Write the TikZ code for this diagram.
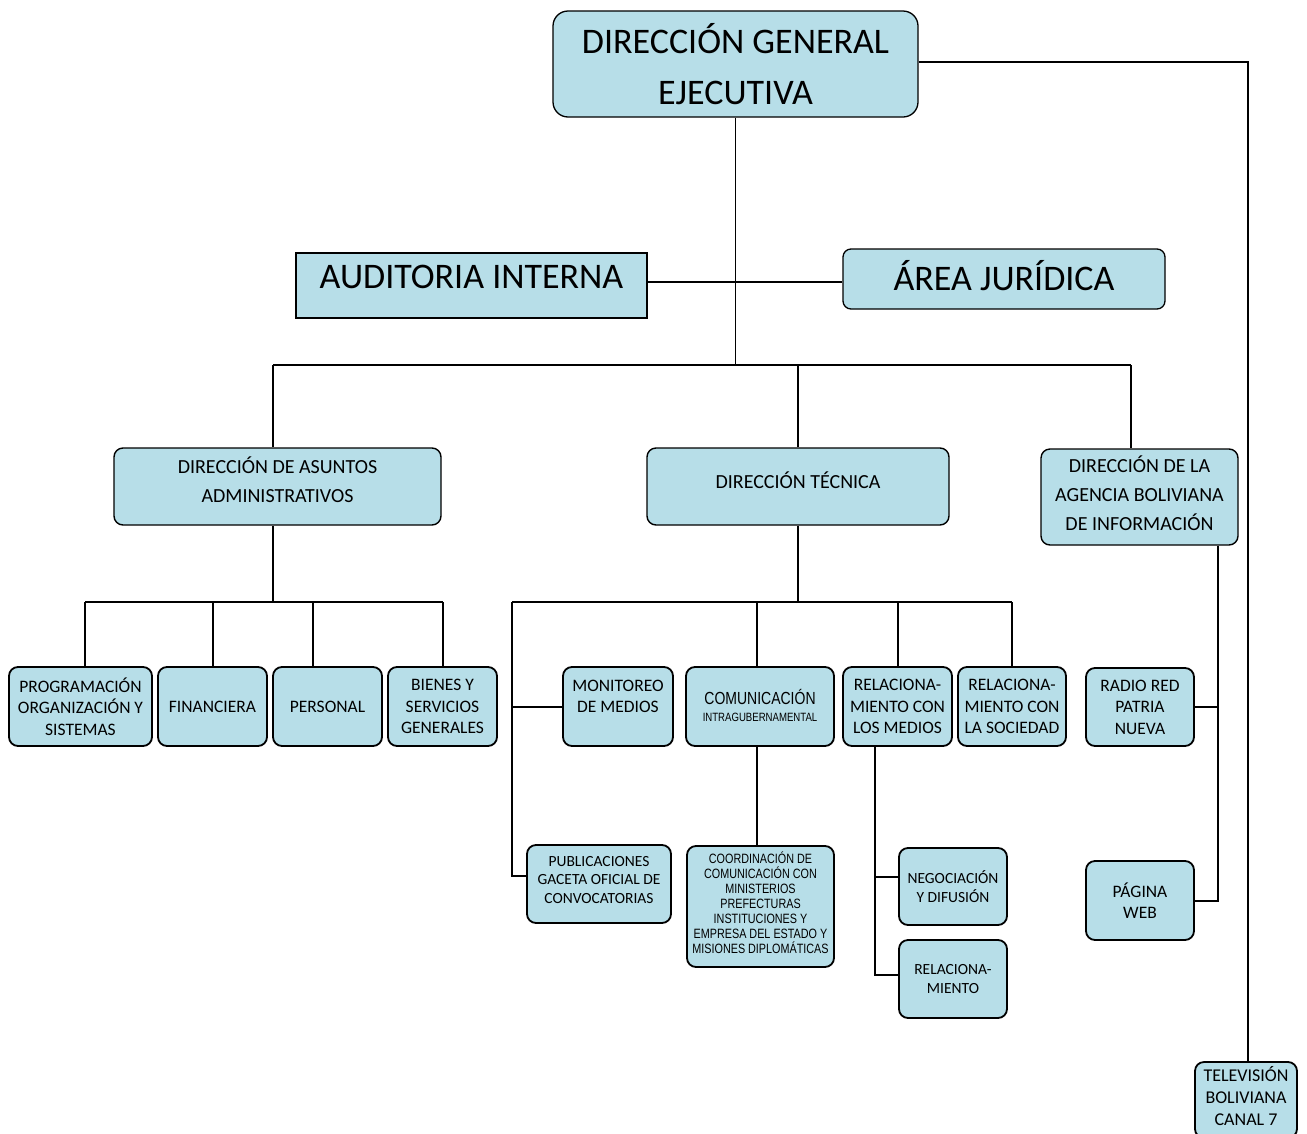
\documentclass[tikz,border=0pt]{standalone}
\usepackage{fontspec}
\setmainfont{Carlito}
\newfontfamily\narrowfont{Liberation Sans}[FakeStretch=0.8]
\definecolor{boxfill}{HTML}{B7DEE8}

\begin{document}
\begin{tikzpicture}[x=1pt, y=-1pt,
		unit/.style={draw, fill=boxfill, line width=1.8pt, rounded corners=9pt, align=center, inner sep=2pt,
			minimum width=109pt, minimum height=79pt, font=\fontsize{17.5}{21.5}\selectfont},
		lower/.style={unit, minimum height=78pt, font=\fontsize{15.5}{18.5}\selectfont},
		head/.style={unit, line width=1.4pt, minimum height=77pt, font=\fontsize{20}{29}\selectfont},
		chief/.style={unit, line width=1.3pt, font=\fontsize{36}{51}\selectfont},
		link/.style={line width=2pt},
		trunk/.style={line width=1.5pt},
	]
		\useasboundingbox (0,0) rectangle (1307,1133);

		% top level
		\node[chief, minimum width=365pt, minimum height=106pt, rounded corners=15pt] (dg) at (735.5,64) {DIRECCIÓN GENERAL\\EJECUTIVA};
		\node[chief, sharp corners, minimum width=351pt, minimum height=65pt, text depth=17pt] (aud) at (471.5,285.5) {AUDITORIA INTERNA};
		\node[chief, minimum width=322pt, minimum height=60pt, rounded corners=8pt, text depth=8pt] (jur) at (1004,279) {ÁREA JURÍDICA};

		% directions
		\node[head, minimum width=327pt, text depth=14pt] (daa) at (277.5,486.5) {DIRECCIÓN DE ASUNTOS\\ADMINISTRATIVOS};
		\node[head, minimum width=302pt, text depth=12pt] (dt) at (798,486.5) {DIRECCIÓN TÉCNICA};
		\node[head, minimum width=197pt, minimum height=96pt, text depth=7pt] (dabi) at (1139.5,497) {DIRECCIÓN DE LA\\AGENCIA BOLIVIANA\\DE INFORMACIÓN};

		% units
		\node[unit, minimum width=143pt] (prog) at (80.5,706.5) {PROGRAMACIÓN\\ORGANIZACIÓN Y\\SISTEMAS};
		\node[unit] (fin) at (212.5,706.5) {FINANCIERA};
		\node[unit] (pers) at (327.5,706.5) {PERSONAL};
		\node[unit] (bien) at (442.5,706.5) {BIENES Y\\SERVICIOS\\GENERALES};
		\node[unit, minimum width=110pt, text depth=20pt] (mon) at (618,706.5) {MONITOREO\\DE MEDIOS};
		\node[unit, minimum width=148pt, text depth=2pt] (com) at (760,706.5) {{\narrowfont\fontsize{17.5}{20}\selectfont COMUNICACIÓN}\\[-4pt]{\narrowfont\fontsize{12}{14}\selectfont INTRAGUBERNAMENTAL}};
		\node[unit] (rel1) at (897.5,706.5) {RELACIONA-\\MIENTO CON\\LOS MEDIOS};
		\node[unit, minimum width=108pt] (rel2) at (1012,706.5) {RELACIONA-\\MIENTO CON\\LA SOCIEDAD};
		\node[unit, minimum width=108pt, minimum height=78pt] (radio) at (1140,707) {RADIO RED\\PATRIA\\NUEVA};

		\node[lower, minimum width=144pt, text depth=9pt] (pub) at (599,884) {PUBLICACIONES\\GACETA OFICIAL DE\\CONVOCATORIAS};
		\node[unit, minimum width=147pt, minimum height=121pt, text depth=8pt, font=\narrowfont\fontsize{13.5}{15}\selectfont] (coord) at (760.5,906.5) {COORDINACIÓN DE\\COMUNICACIÓN CON\\MINISTERIOS\\PREFECTURAS\\INSTITUCIONES Y\\EMPRESA DEL ESTADO Y\\MISIONES DIPLOMÁTICAS};
		\node[lower, minimum width=108pt, minimum height=77pt] (neg) at (953,886.5) {NEGOCIACIÓN\\Y DIFUSIÓN};
		\node[lower, minimum width=108pt] (rel3) at (953,979) {RELACIONA-\\MIENTO};
		\node[unit, minimum width=108pt] (web) at (1140,900.5) {PÁGINA\\WEB};
		\node[unit, minimum width=102pt, minimum height=76pt, text depth=8pt, font=\fontsize{18}{22}\selectfont] (tv) at (1246,1100) {TELEVISIÓN\\BOLIVIANA\\CANAL 7};

		% connectors, top
		\coordinate (busL) at (273,365);
		\coordinate (busR) at (1131,365);
		\draw[trunk] (dg) -- (dg |- busL);
		\draw[trunk] (aud.east |- 0,282) -- (jur.west |- 0,282);
		\draw[link] (busL) -- (busR);
		\draw[link] (busL) -- (busL |- daa.north);
		\draw[link] (dt) -- (dt |- busL);
		\draw[link] (busR) -- (busR |- dabi.north);
		\draw[trunk] (dg.east |- 0,62) -| (tv.north -| 1248,0);

		% administrative units
		\coordinate (admL) at (85,602);
		\coordinate (admR) at (443,602);
		\draw[link] (busL |- daa.south) -- (busL |- admL);
		\draw[link] (admL) -- (admR);
		\foreach \n/\x in {prog/85, fin/213, pers/313, bien/443}
			\draw[link] (\n.north -| \x,0) -- (admL -| \x,0);

		% technical units
		\coordinate (tecL) at (512,602);
		\coordinate (tecR) at (1012,602);
		\draw[link] (dt) -- (dt |- tecL);
		\draw[link] (tecL) -- (tecR);
		\draw[link] (tecL) |- ([yshift=8pt]pub.west);
		\draw[link] (mon.west) -- (mon.west -| tecL);
		\coordinate (comX) at ([xshift=-3pt]com.north);
		\draw[link] (comX) -- (comX |- tecL);
		\foreach \n in {rel1, rel2}
			\draw[link] (\n) -- (\n |- tecL);
		\draw[link] (comX |- com.south) -- (comX |- coord.north);
		\coordinate (medX) at ([xshift=-22.5pt]rel1.south);
		\draw[link] (medX) |- ([yshift=4pt]rel3.west);
		\draw[link] ([yshift=10pt]neg.west) -- ([yshift=10pt]neg.west -| medX);

		% agency
		\coordinate (agX) at ([xshift=78.5pt]dabi.south);
		\draw[link] (agX) |- (web.east);
		\draw[link] (radio.east) -- (radio.east -| agX);
	\end{tikzpicture}
\end{document}
